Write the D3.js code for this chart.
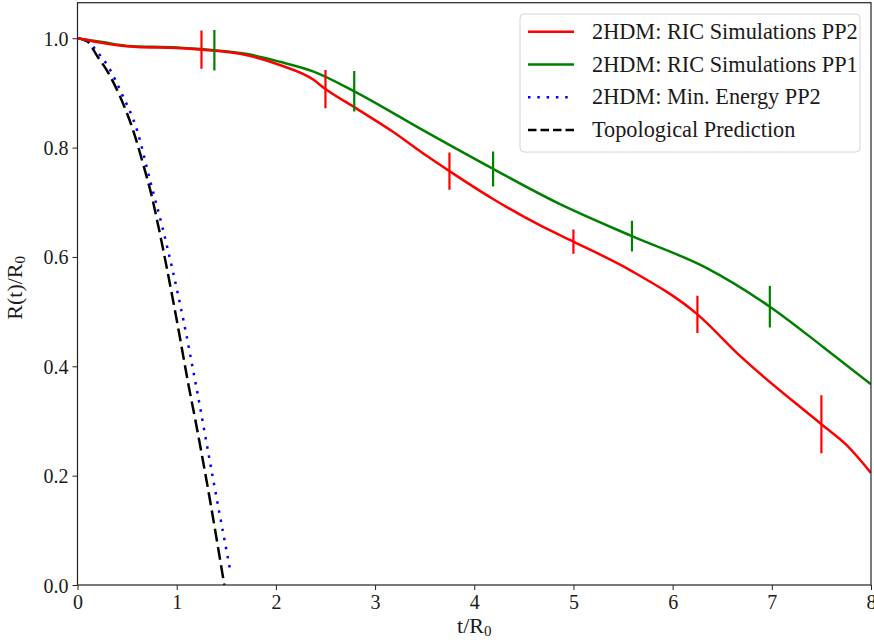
<!DOCTYPE html>
<html>
<head>
<meta charset="utf-8">
<script src="https://cdn.jsdelivr.net/npm/d3@7"></script>
<style>
  html, body { margin: 0; padding: 0; background: #fff; overflow: hidden; }
  svg { display: block; }
  text { font-family: "Liberation Serif", "DejaVu Serif", serif; fill: #1a1a1a; }
</style>
</head>
<body>
<div id="chart"></div>
<script>
// Daten
const redT = [0, 0.3, 0.6, 1.0, 1.25, 1.71, 2.04, 2.38, 2.5, 2.79, 3.18, 3.52, 3.75, 4.19, 4.66, 5.0, 5.57, 6.25, 6.68, 7.5, 7.76, 8.0];
const redV = [1.0, 0.99, 0.984, 0.982, 0.979, 0.969, 0.951, 0.924, 0.907, 0.874, 0.829, 0.785, 0.757, 0.706, 0.658, 0.628, 0.576, 0.495, 0.419, 0.294, 0.255, 0.205];

const greenT = [0, 0.25, 0.5, 1.0, 1.38, 1.71, 2.04, 2.38, 2.79, 3.5, 4.19, 4.86, 5.59, 6.34, 6.98, 7.52, 8.0];
const greenV = [1.0, 0.993, 0.986, 0.983, 0.978, 0.971, 0.957, 0.939, 0.903, 0.830, 0.761, 0.697, 0.638, 0.58, 0.509, 0.435, 0.367];

const minEnergyT = [0, 0.1, 0.2, 0.31, 0.45, 0.6, 0.73, 0.855, 1.067, 1.195, 1.369, 1.547];
const minEnergyV = [1.0, 0.995, 0.975, 0.948, 0.897, 0.832, 0.741, 0.655, 0.485, 0.365, 0.192, 0.02];

const topoT = [0, 0.1, 0.2, 0.3, 0.43, 0.56, 0.66, 0.75, 0.82, 1.0, 1.12, 1.19, 1.3, 1.48];
const topoV = [1.0, 0.994, 0.967, 0.94, 0.893, 0.832, 0.771, 0.71, 0.652, 0.485, 0.365, 0.300, 0.192, 0.0];

// Fehlerbalken
const redErrT = [1.25, 2.5, 3.75, 5.0, 6.25, 7.5];
const redErrV = [0.979, 0.907, 0.757, 0.628, 0.495, 0.294];
const redErrE = [0.035, 0.035, 0.034, 0.022, 0.034, 0.053];

const greenErrT = [1.38, 2.79, 4.19, 5.59, 6.98];
const greenErrV = [0.978, 0.903, 0.761, 0.638, 0.509];
const greenErrE = [0.037, 0.037, 0.032, 0.028, 0.038];

const xTicks = [0, 1, 2, 3, 4, 5, 6, 7, 8];
const yTicks = [0.0, 0.2, 0.4, 0.6, 0.8, 1.0];

const legendLabels = ["2HDM: RIC Simulations PP2", "2HDM: RIC Simulations PP1", "2HDM: Min. Energy PP2", "Topological Prediction"];

// Layout
const width = 874, height = 643, margin = {top: 2.7, right: 3, bottom: 58, left: 77.5};
const innerWidth = width - margin.left - margin.right;
const innerHeight = height - margin.top - margin.bottom;

const svg = d3.select("#chart").append("svg")
    .attr("viewBox", `0 0 ${width} ${height}`)
    .style("width", "100vw")
    .style("height", "100vh")
    .append("g")
    .attr("transform", `translate(${margin.left}, ${margin.top})`);

const xScale = d3.scaleLinear().domain([0, 8]).range([0, innerWidth]);
const yScale = d3.scaleLinear().domain([0, 1.065]).range([innerHeight, 0]);

svg.append("defs").append("clipPath").attr("id", "clip")
    .append("rect").attr("width", innerWidth).attr("height", innerHeight);

const line = d3.line()
    .x(d => xScale(d[0]))
    .y(d => yScale(d[1]))
    .curve(d3.curveMonotoneX);

const series = [
    {t: topoT, v: topoV, color: "black", dash: "13,5.5"},
    {t: minEnergyT, v: minEnergyV, color: "blue", dash: "2.5,6.8"},
    {t: greenT, v: greenV, color: "green", dash: null},
    {t: redT, v: redV, color: "red", dash: null}
];

const plot = svg.append("g").attr("clip-path", "url(#clip)");

series.forEach(s => {
    plot.append("path")
        .datum(s.t.map((t, i) => [t, s.v[i]]))
        .attr("d", line)
        .attr("fill", "none")
        .attr("stroke", s.color)
        .attr("stroke-width", 2.5)
        .attr("stroke-dasharray", s.dash);
});

// Fehlerbalken zeichnen
function errorBars(ts, vs, es, color) {
    plot.selectAll(null)
        .data(ts.map((t, i) => ({t: t, v: vs[i], e: es[i]})))
        .enter()
        .append("line")
        .attr("x1", d => xScale(d.t))
        .attr("x2", d => xScale(d.t))
        .attr("y1", d => yScale(d.v - d.e))
        .attr("y2", d => yScale(d.v + d.e))
        .attr("stroke", color)
        .attr("stroke-width", 2.2);
}
errorBars(redErrT, redErrV, redErrE, "red");
errorBars(greenErrT, greenErrV, greenErrE, "green");

// Achsen
const xAxis = svg.append("g")
    .attr("transform", `translate(0,${innerHeight})`)
    .call(d3.axisBottom(xScale).tickValues(xTicks).tickFormat(d3.format("d")).tickSize(5));

const yAxis = svg.append("g")
    .call(d3.axisLeft(yScale).tickValues(yTicks).tickFormat(d3.format(".1f")).tickSize(5));

[xAxis, yAxis].forEach(a => {
    a.attr("font-family", "Liberation Serif").attr("font-size", 20);
    a.select(".domain").remove();
    a.selectAll(".tick line").attr("stroke", "#222").attr("stroke-width", 1);
    a.selectAll(".tick text")
        .attr("dy", null)
        .attr("font-family", "Liberation Serif")
        .attr("font-size", 20)
        .attr("fill", "#1a1a1a");
});
xAxis.selectAll(".tick text").attr("y", 24);
yAxis.selectAll(".tick text").attr("x", -9).attr("y", 7);

// Rahmen
svg.append("rect")
    .attr("width", innerWidth)
    .attr("height", innerHeight)
    .attr("fill", "none")
    .attr("stroke", "#222")
    .attr("stroke-width", 1.2);

// Achsenbeschriftung
const xl = svg.append("text")
    .attr("x", innerWidth / 2)
    .attr("y", innerHeight + 48)
    .attr("text-anchor", "middle")
    .attr("font-size", 22);
xl.append("tspan").text("t/R");
xl.append("tspan").attr("font-size", 15).attr("dy", 3).text("0");

const yl = svg.append("text")
    .attr("transform", "rotate(-90)")
    .attr("x", -innerHeight / 2 + 6)
    .attr("y", -56)
    .attr("text-anchor", "middle")
    .attr("font-size", 22);
yl.append("tspan").text("R(t)/R");
yl.append("tspan").attr("font-size", 15).attr("dy", 3).text("0");

// Legende
const legend = svg.append("g").attr("transform", `translate(${520 - margin.left}, ${14 - margin.top})`);
legend.append("rect")
    .attr("width", 340)
    .attr("height", 138)
    .attr("rx", 4)
    .attr("fill", "white")
    .attr("fill-opacity", 0.8)
    .attr("stroke", "#d4d4d4")
    .attr("stroke-width", 1);

const legendSeries = [series[3], series[2], series[1], series[0]];
legendLabels.forEach((label, i) => {
    const y = 17.7 + i * 32.8;
    const s = legendSeries[i];
    legend.append("line")
        .attr("x1", 8).attr("x2", 54)
        .attr("y1", y).attr("y2", y)
        .attr("stroke", s.color)
        .attr("stroke-width", 2.5)
        .attr("stroke-dasharray", s.dash === "13,5.5" ? "8.5,4" : s.dash);
    legend.append("text")
        .attr("x", 72)
        .attr("y", y + 7)
        .attr("font-size", 22.3)
        .text(label);
});
</script>
</body>
</html>
